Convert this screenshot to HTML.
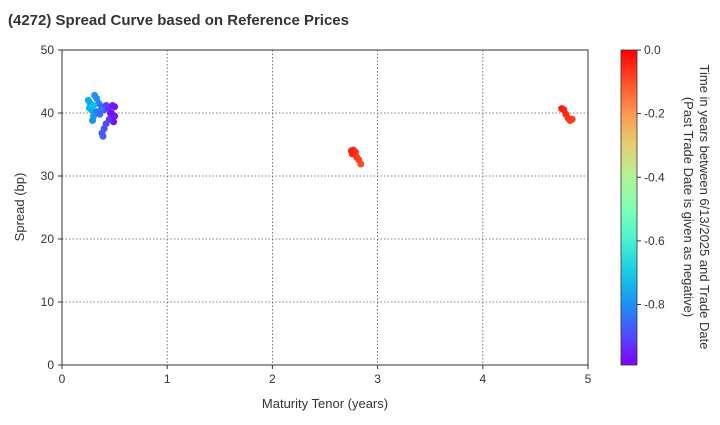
<!DOCTYPE html>
<html><head><meta charset="utf-8"><style>
body{margin:0;background:#fff;font-family:"Liberation Sans",sans-serif;}
svg text{font-family:"Liberation Sans",sans-serif;fill:#333;}
</style></head><body>
<svg id="c" width="720" height="420">
<defs><linearGradient id="cb" x1="0" y1="1" x2="0" y2="0"></linearGradient></defs>
<text x="8" y="25" font-size="15" font-weight="bold">(4272)   Spread Curve based on Reference Prices</text>
<g id="grid"></g><g id="pts"></g><g id="axes"></g>
<text x="325" y="408" font-size="13" text-anchor="middle">Maturity Tenor (years)</text>
<text transform="translate(24,207) rotate(-90)" font-size="13" text-anchor="middle">Spread (bp)</text>
<text transform="translate(700,207) rotate(90)" font-size="13" text-anchor="middle">Time in years between 6/13/2025 and Trade Date</text>
<text transform="translate(684,207) rotate(90)" font-size="13" text-anchor="middle">(Past Trade Date is given as negative)</text>
</svg>
<script>
const xTicks=[0,1,2,3,4,5];
const yTicks=[0,10,20,30,40,50];
const cTicks=[0.0,-0.2,-0.4,-0.6,-0.8];
const tenors=[0.25,0.27,0.28,0.30,0.29,0.31,0.33,0.35,0.33,0.36,0.38,0.40,0.42,0.44,0.46,0.48,0.50,0.50,0.49,0.45,0.42,0.40,0.38,0.39,0.37,0.26,0.30,0.47,
2.75,2.77,2.79,2.80,2.82,2.84,2.76,4.75,4.77,4.79,4.81,4.83,4.85];
const spreads=[42.0,41.5,40.5,39.5,38.8,42.8,42.3,41.5,40.2,39.8,41.0,40.5,41.2,40.8,40.0,41.2,41.0,39.5,38.6,39.0,38.3,37.5,36.8,36.3,40.5,40.8,41.2,40.0,
34.0,34.1,33.8,33.0,32.6,31.9,33.5,40.7,40.5,39.8,39.2,38.8,39.0];
const times=[-0.75,-0.77,-0.76,-0.78,-0.79,-0.8,-0.8,-0.82,-0.83,-0.85,-0.86,-0.88,-0.9,-0.92,-0.93,-0.95,-0.97,-0.96,-0.97,-0.92,-0.9,-0.89,-0.88,-0.87,-0.84,-0.74,-0.72,-0.98,
-0.05,-0.04,-0.06,-0.07,-0.08,-0.09,-0.05,-0.03,-0.04,-0.05,-0.06,-0.07,-0.08];
const L=62,R=588,T=50,B=365,CMIN=-0.99,CMAX=0;
const sx=v=>L+(v-0)/5*(R-L), sy=v=>B-(v/50)*(B-T);
const cy=v=>B-(v-CMIN)/(CMAX-CMIN)*(B-T);
const ns="http://www.w3.org/2000/svg";
function mk(tag,at,p){const e=document.createElementNS(ns,tag);for(const k in at)e.setAttribute(k,at[k]);p.appendChild(e);return e;}
function rb(x){const c=v=>Math.round(255*Math.max(0,Math.min(1,v)));return `rgb(${c(Math.abs(2*x-0.5))},${c(Math.sin(Math.PI*x))},${c(Math.cos(Math.PI*x/2))})`;}
const g=document.getElementById('grid'),p=document.getElementById('pts'),a=document.getElementById('axes'),svg=document.getElementById('c');
xTicks.forEach(t=>{const x=sx(t);
 if(t>0&&t<5){const l=mk('line',{x1:x,x2:x,y1:T,y2:B,stroke:'#555','stroke-dasharray':'1.5,2','stroke-width':0.8},g);}
 mk('line',{x1:x,x2:x,y1:B,y2:B+4,stroke:'#333'},a);
 const tx=mk('text',{x:x,y:B+18,'font-size':12,'text-anchor':'middle'},a);tx.textContent=t;
 });
yTicks.forEach(t=>{const y=sy(t);
 if(t>0&&t<50){const l=mk('line',{x1:L,x2:R,y1:y,y2:y,stroke:'#555','stroke-dasharray':'1.5,2','stroke-width':0.8},g);}
 mk('line',{x1:L-4,x2:L,y1:y,y2:y,stroke:'#333'},a);
 const tx=mk('text',{x:L-8,y:y+4,'font-size':12,'text-anchor':'end'},a);tx.textContent=t;
 });
const fr=mk('rect',{x:L,y:T,width:R-L,height:B-T,fill:'none',stroke:'#333','stroke-width':1},a);

tenors.forEach((tv,i)=>{const c=mk('circle',{cx:sx(tv),cy:sy(spreads[i]),r:3.5,fill:rb((times[i]-CMIN)/(CMAX-CMIN))},p);
 });
const gr=document.getElementById('cb');
for(let i=0;i<=10;i++){mk('stop',{offset:i/10,'stop-color':rb(i/10)},gr);}
const cb=mk('rect',{x:621,y:T,width:16,height:B-T,fill:'url(#cb)',stroke:'#333','stroke-width':0.8},svg);

cTicks.forEach(t=>{const y=cy(t);mk('line',{x1:637,x2:641,y1:y,y2:y,stroke:'#333'},svg);
 const tx=mk('text',{x:644,y:y+4,'font-size':12},svg);tx.textContent=t.toFixed(1);
 });
</script>
</body></html>
